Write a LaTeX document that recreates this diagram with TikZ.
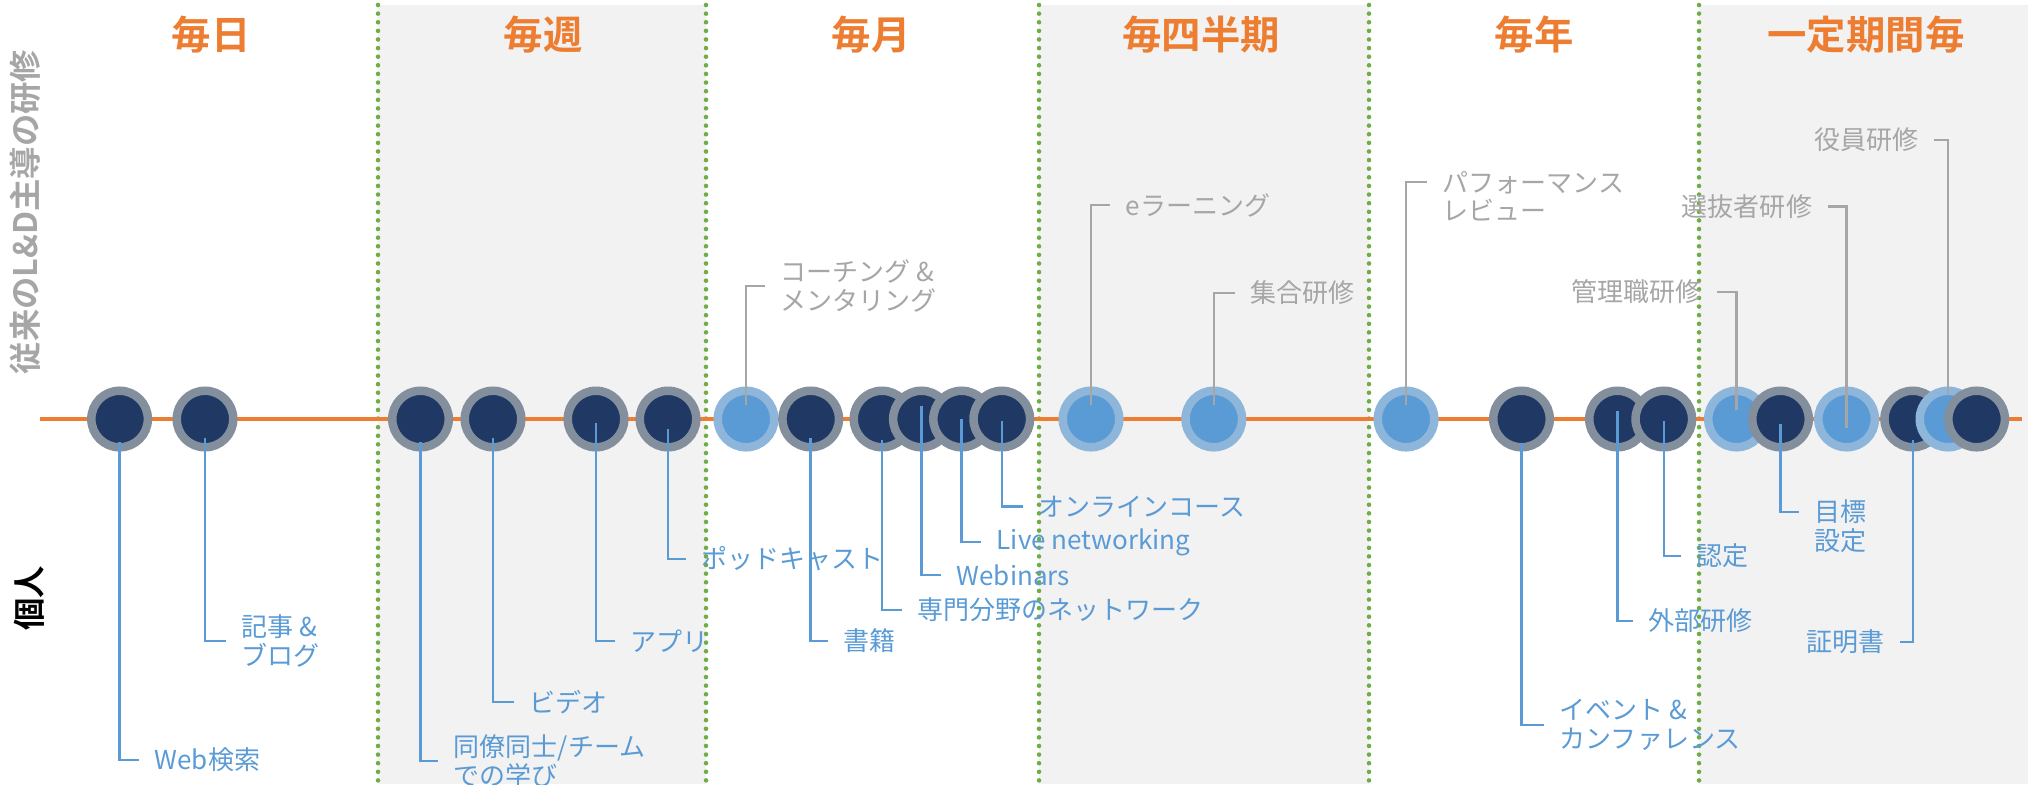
\documentclass[tikz,border=0pt]{standalone}
\usepackage{fontspec}
\setmainfont{Noto Sans CJK JP}[BoldFont={Noto Sans CJK JP Bold}]
\usetikzlibrary{calc}

\definecolor{lineorange}{HTML}{ED7D31}
\definecolor{sepgreen}{HTML}{70AD47}
\definecolor{bandgray}{HTML}{F2F2F2}
\definecolor{navy}{HTML}{1F3864}
\definecolor{ringgray}{HTML}{838F9C}
\definecolor{lightring}{HTML}{8DB6DA}
\definecolor{lightblue}{HTML}{5B9BD5}
\definecolor{textgray}{HTML}{A6A6A6}

\newcommand{\labfont}{\fontsize{7.4}{8.1}\selectfont}

\begin{document}
\begin{tikzpicture}[x=0.01cm, y=-0.01cm,
    band/.style={fill=bandgray},
    sep/.style={sepgreen, line width=1.3pt, line cap=round, dash pattern=on 0pt off 2.45pt},
    head/.style={text=lineorange, font=\fontsize{11.2}{12}\selectfont\bfseries},
    side/.style={rotate=90, font=\fontsize{9.2}{10}\selectfont\bfseries},
    dot/.style={circle, inner sep=0, minimum size=0.565cm, line width=0.085cm, draw=ringgray, fill=navy},
    ldot/.style={dot, draw=lightring, fill=lightblue},
    blab/.style={anchor=west, inner sep=0, align=left, text=lightblue, font=\labfont},
    glab/.style={blab, text=textgray},
    rblab/.style={blab, anchor=east, align=right},
    rglab/.style={glab, anchor=east, align=right},
    bline/.style={lightblue, line width=0.7pt, shorten >=0.15cm},
    gline/.style={textgray, line width=0.7pt, shorten >=0.15cm}]

    \useasboundingbox (0,0) rectangle (2028,784);

    % shaded columns
    \fill[band] (378,5) rectangle (706,784);
    \fill[band] (1039,5) rectangle (1369,784);
    \fill[band] (1699,5) rectangle (2028,784);
    \foreach \x in {378,706,1039,1369,1699}
        \draw[sep] (\x,5) -- (\x,784);

    % headings
    \node[head] (h1) at (211,35) {毎日};
    \node[head] (h2) at (543,35) {毎週};
    \node[head] (h3) at (871,35) {毎月};
    \node[head] (h4) at (1201,35) {毎四半期};
    \node[head] (h5) at (1534,35) {毎年};
    \node[head] (h6) at (1866,35) {一定期間毎};

    \node[side, text=textgray] (top) at (25,212) {従来のL\&D主導の研修};
    \node[side, text=black] (bottom) at (29,598) {個人};

    % timeline
    \draw[lineorange, line width=1.15pt] (40,419) -- (2022,419);

    \node[dot] (c1) at (119.6,419) {};
    \node[dot] (c2) at (205,419) {};
    \node[dot] (c3) at (420.5,419) {};
    \node[dot] (c4) at (493,419) {};
    \node[dot] (c5) at (596,419) {};
    \node[dot] (c6) at (668,419) {};
    \node[ldot] (c7) at (746,419) {};
    \node[dot] (c8) at (810.7,419) {};
    \node[dot] (c9) at (882,419) {};
    \node[dot] (c10) at (921.4,419) {};
    \node[dot] (c11) at (961.6,419) {};
    \node[dot] (c12) at (1001.8,419) {};
    \node[ldot] (c13) at (1091,419) {};
    \node[ldot] (c14) at (1213.8,419) {};
    \node[ldot] (c15) at (1406,419) {};
    \node[dot] (c16) at (1521.5,419) {};
    \node[dot] (c17) at (1617.5,419) {};
    \node[dot] (c18) at (1663.8,419) {};
    \node[ldot] (c19) at (1736.5,419) {};
    \node[dot] (c20) at (1780.5,419) {};
    \node[ldot] (c21) at (1846.6,419) {};
    \node[dot] (c22) at (1912.7,419) {};
    \node[ldot] (c23) at (1948,419) {};
    \node[dot] (c24) at (1976.6,419) {};

    % labels below (individual)
    \node[blab] (l1) at (154,760) {Web検索};
    \node[blab] (l2) at (241,641) {記事 \&\\ブログ};
    \node[blab] (l3) at (453,761) {同僚同士/チーム\\での学び};
    \node[blab] (l4) at (529,702) {ビデオ};
    \node[blab] (l5) at (629.5,641) {アプリ};
    \node[blab] (l6) at (701,559) {ポッドキャスト};
    \node[blab] (l8) at (843,641) {書籍};
    \node[blab] (l9) at (916.5,610) {専門分野のネットワーク};
    \node[blab] (l10) at (956,575) {Webinars};
    \node[blab] (l11) at (996,542) {Live networking};
    \node[blab] (l12) at (1038,506.5) {オンラインコース};
    \node[blab] (l16) at (1559,725) {イベント \&\\カンファレンス};
    \node[blab] (l17) at (1648,621) {外部研修};
    \node[blab] (l18) at (1696,556) {認定};
    \node[blab] (l20) at (1813.6,526) {目標\\設定};
    \node[rblab] (l22) at (1885,642) {証明書};

    % labels above (L&D)
    \node[glab] (l7) at (779.5,286) {コーチング \&\\メンタリング};
    \node[glab] (l13) at (1125,205) {eラーニング};
    \node[glab] (l14) at (1250,293) {集合研修};
    \node[glab] (l15) at (1442,196) {パフォーマンス\\レビュー};
    \node[rglab] (l19) at (1702,292) {管理職研修};
    \node[rglab] (l21) at (1812.7,206.5) {選抜者研修};
    \node[rglab] (l23) at (1919,140) {役員研修};

    \draw[bline] ($(c1)+(0,23)$) |- (l1.west);
    \draw[bline] ($(c2)+(0,19)$) |- (l2.west);
    \draw[bline] ($(c3)+(0,23)$) |- (l3.west);
    \draw[bline] ($(c4)+(0,19)$) |- (l4.west);
    \draw[bline] ($(c5)+(0,4)$) |- (l5.west);
    \draw[bline] ($(c6)+(0,10)$) |- (l6.west);
    \draw[bline] ($(c8)+(0,19)$) |- (l8.west);
    \draw[bline] ($(c9)+(0,21)$) |- (l9.west);
    \draw[bline] ($(c10)+(0,-13)$) |- (l10.west);
    \draw[bline] (c11.center) |- (l11.west);
    \draw[bline] ($(c12)+(0,2)$) |- (l12.west);
    \draw[bline] ($(c16)+(0,24)$) |- (l16.west);
    \draw[bline] ($(c17)+(0,-8)$) |- (l17.west);
    \draw[bline] ($(c18)+(0,2)$) |- (l18.west);
    \draw[bline] ($(c20)+(0,5)$) |- ([yshift=4pt]l20.west);
    \draw[bline] ($(c22)+(0,21)$) |- (l22.east);

    \draw[gline] ($(c7)+(0,-14)$) |- (l7.west);
    \draw[gline] ($(c13)+(0,-14)$) |- (l13.west);
    \draw[gline] ($(c14)+(0,-14)$) |- (l14.west);
    \draw[gline] ($(c15)+(0,-14)$) |- ([yshift=4pt]l15.west);
    \draw[gline] ($(c19)+(0,-9)$) |- (l19.east);
    \draw[gline] ($(c21)+(0,9)$) |- (l21.east);
    \draw[gline] ($(c23)+(0,-24)$) |- (l23.east);

\end{tikzpicture}
\end{document}
